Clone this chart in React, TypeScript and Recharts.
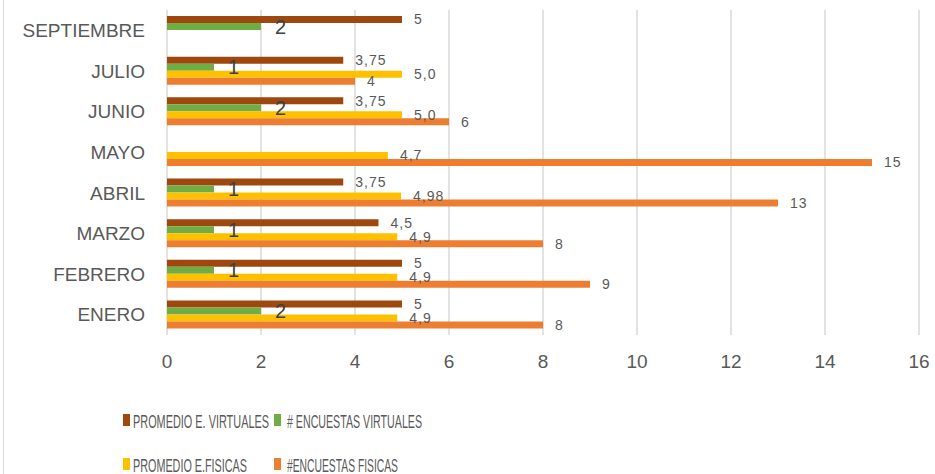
import React from "react";
import {
  BarChart,
  Bar,
  XAxis,
  YAxis,
  CartesianGrid,
  Legend,
  LabelList,
} from "recharts";

const MONTHS = ["ENERO", "FEBRERO", "MARZO", "ABRIL", "MAYO", "JUNIO", "JULIO", "SEPTIEMBRE"];
const PROMEDIO_VIRTUALES = [5, 5, 4.5, 3.75, null, 3.75, 3.75, 5];
const ENCUESTAS_VIRTUALES = [2, 1, 1, 1, null, 2, 1, 2];
const PROMEDIO_FISICAS = [4.9, 4.9, 4.9, 4.98, 4.7, 5.0, 5.0, null];
const ENCUESTAS_FISICAS = [8, 9, 8, 13, 15, 6, 4, null];
const X_TICKS = [0, 2, 4, 6, 8, 10, 12, 14, 16];

const SERIES = [
  { key: "pev", name: "PROMEDIO E. VIRTUALES", color: "#9E480E" },
  { key: "nev", name: "# ENCUESTAS VIRTUALES", color: "#70AD47" },
  { key: "pef", name: "PROMEDIO E.FISICAS", color: "#FFC000" },
  { key: "nef", name: "#ENCUESTAS FISICAS", color: "#ED7D31" },
];

const data = MONTHS.map((m, i) => ({
  month: m,
  pev: PROMEDIO_VIRTUALES[i],
  nev: ENCUESTAS_VIRTUALES[i],
  pef: PROMEDIO_FISICAS[i],
  nef: ENCUESTAS_FISICAS[i],
}));

const FONT = '"Liberation Sans", Arial, sans-serif';

const comma = (v: any) => (v == null ? "" : String(v).replace(".", ","));
const oneDecimal = (v: any) =>
  v == null ? "" : (Number.isInteger(v) ? v.toFixed(1) : String(v)).replace(".", ",");

const smallLabel = { fill: "#595959", fontSize: 14, fontFamily: FONT, letterSpacing: 1 };

// legend text is squeezed like the original (condensed font)
function LegendBox() {
  const pos = [
    { sq: 123, tx: 133, y: 41, w: 136 },
    { sq: 274, tx: 287, y: 41, w: 135 },
    { sq: 123, tx: 133, y: 85, w: 114 },
    { sq: 274, tx: 287, y: 85, w: 111 },
  ];
  return (
    <svg width={935} height={95} style={{ display: "block" }}>
      {SERIES.map((s, i) => (
        <g key={s.key}>
          <rect x={pos[i].sq} y={pos[i].y - 6} width={7} height={12} fill={s.color} />
          <text
            x={pos[i].tx}
            y={pos[i].y + 1}
            dominantBaseline="central"
            textLength={pos[i].w}
            lengthAdjust="spacingAndGlyphs"
            fill="#595959"
            fontSize={19}
            fontFamily={FONT}
          >
            {s.name}
          </text>
        </g>
      ))}
    </svg>
  );
}

export default function App() {
  return (
    <div
      style={{
        position: "fixed",
        left: 0,
        top: 0,
        width: 935,
        height: 474,
        background: "#fff",
      }}
    >
      <div style={{ position: "absolute", left: 3, top: 0, width: 1, height: 474, background: "#d9d9d9" }} />
      <BarChart
        width={935}
        height={474}
        data={data}
        layout="vertical"
        margin={{ top: 10, right: 16, bottom: 0, left: 0 }}
        barSize={7}
        barGap={0}
      >
        <CartesianGrid horizontal={false} stroke="#d9d9d9" strokeWidth={1.5} />
        <XAxis
          type="number"
          domain={[0, 16]}
          ticks={X_TICKS}
          axisLine={false}
          tickLine={false}
          tickMargin={14}
          height={44}
          tick={{ fill: "#595959", fontSize: 19, fontFamily: FONT }}
        />
        <YAxis
          type="category"
          dataKey="month"
          reversed
          width={167}
          axisLine={false}
          tickLine={false}
          tickMargin={16}
          tick={{ fill: "#595959", fontSize: 19, fontFamily: FONT }}
        />
        <Legend verticalAlign="bottom" height={95} content={() => <LegendBox />} />
        <Bar dataKey="pev" name={SERIES[0].name} fill={SERIES[0].color} isAnimationActive={false}>
          <LabelList dataKey="pev" position="right" offset={12} formatter={comma} style={smallLabel} />
        </Bar>
        <Bar dataKey="nev" name={SERIES[1].name} fill={SERIES[1].color} isAnimationActive={false}>
          <LabelList
            dataKey="nev"
            position="right"
            offset={14}
            formatter={comma}
            style={{ fill: "#404040", fontSize: 20, fontFamily: FONT }}
          />
        </Bar>
        <Bar dataKey="pef" name={SERIES[2].name} fill={SERIES[2].color} isAnimationActive={false}>
          <LabelList dataKey="pef" position="right" offset={12} formatter={oneDecimal} style={smallLabel} />
        </Bar>
        <Bar dataKey="nef" name={SERIES[3].name} fill={SERIES[3].color} isAnimationActive={false}>
          <LabelList dataKey="nef" position="right" offset={12} formatter={comma} style={smallLabel} />
        </Bar>
      </BarChart>
    </div>
  );
}
